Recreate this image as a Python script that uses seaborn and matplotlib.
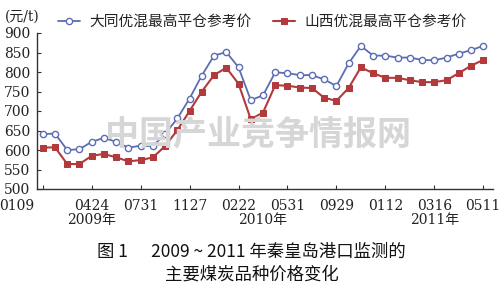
import numpy as np
import pandas as pd
import matplotlib
matplotlib.use("Agg")
import matplotlib.pyplot as plt
import matplotlib.transforms as mtransforms
import seaborn as sns

# ---- data ----
datong = [641, 642, 600, 602, 621, 631, 621, 606, 611, 610, 641, 681, 732, 791, 842,
          851, 812, 728, 740, 799, 797, 792, 792, 781, 764, 822, 867, 842, 842, 837,
          837, 831, 830, 837, 847, 856, 867]
shanxi = [606, 607, 564, 564, 585, 590, 581, 571, 574, 581, 610, 651, 700, 750, 792,
          811, 770, 679, 696, 766, 765, 760, 759, 734, 726, 759, 812, 797, 785, 785,
          779, 774, 774, 779, 797, 816, 831]
tick_labels = ["0109", "0424", "0731", "1127", "0222", "0531", "0929", "0112", "0316", "0511"]
year_labels = ["2009年", "2010年", "2011年"]
series_names = ["大同优混最高平仓参考价", "山西优混最高平仓参考价"]
y_ticks = [500, 550, 600, 650, 700, 750, 800, 850, 900]

sns.set_theme(style="white")
plt.rcParams['font.family'] = ['DejaVu Serif', 'Noto Sans CJK SC']

W, H = 501, 286
fig = plt.figure(figsize=(W / 100, H / 100), dpi=100)
ax = fig.add_axes([37 / W, 1 - 189 / H, (493 - 37) / W, (189 - 33) / H])

n = len(datong)
x = np.arange(n)
df = pd.DataFrame({"x": x, "d": datong, "s": shanxi})

blue = "#5c6db5"
red = "#b23a3c"

sns.lineplot(data=df, x="x", y="d", ax=ax, color=blue, lw=1.3, marker="o",
             markersize=4.5, markerfacecolor="white", markeredgecolor=blue,
             markeredgewidth=1.0, label=series_names[0], zorder=3)
sns.lineplot(data=df, x="x", y="s", ax=ax, color=red, lw=1.5, marker="s",
             markersize=5, markerfacecolor=red, markeredgecolor=red,
             label=series_names[1], zorder=3)

ax.set_xlim(-0.47, 36.8)
ax.set_ylim(500, 900)
ax.set_xlabel("")
ax.set_ylabel("")

tick_pos = list(range(0, n, 4))
ax.set_xticks(tick_pos)
ax.set_xticklabels(tick_labels)
ax.set_yticks(y_ticks)
ax.set_yticklabels([str(v) for v in y_ticks])

for sp in ["top", "right"]:
    ax.spines[sp].set_visible(False)
for sp in ["left", "bottom"]:
    ax.spines[sp].set_color("#333333")
    ax.spines[sp].set_linewidth(1.0)

ax.tick_params(axis="x", direction="in", length=3, width=0.8, color="#333333",
               labelsize=10, pad=7, bottom=True)
ax.tick_params(axis="y", direction="in", length=3, width=0.8, color="#333333",
               labelsize=10, pad=5, left=True)
for lbl in ax.get_xticklabels() + ax.get_yticklabels():
    lbl.set_family(['DejaVu Serif'])
    lbl.set_color("#222222")

# shift first x label left as in reference
first = ax.get_xticklabels()[0]
first.set_transform(first.get_transform() +
                    mtransforms.ScaledTranslation(-25.7 / 100, 0, fig.dpi_scale_trans))

# year labels
bt = mtransforms.blended_transform_factory(ax.transData, fig.transFigure)
for xi, lab in zip([4, 18, 32], year_labels):
    ax.text(xi, 1 - 220 / H, lab, transform=bt, ha="center", va="center",
            fontsize=10, family=['DejaVu Serif', 'Noto Sans CJK SC'], color="#222222")

# unit label
fig.text(5 / W, 1 - 17 / H, "(元/t)", ha="left", va="center", fontsize=10,
         family=['DejaVu Serif', 'Noto Sans CJK SC'], color="#222222")

# legend
leg = ax.legend(loc="center left", bbox_to_anchor=(58 / W, 1 - 22 / H),
                bbox_transform=fig.transFigure, ncol=2, frameon=False,
                handlelength=1.5, handletextpad=0.6, columnspacing=1.5,
                prop={"family": ["Noto Sans CJK SC"], "size": 10.6},
                borderaxespad=0, borderpad=0)
for t in leg.get_texts():
    t.set_color("#222222")

# watermark
fig.text(258 / W, 1 - 134 / H, "中国产业竞争情报网", ha="center", va="center",
         fontsize=24.5, family=["Noto Sans CJK SC"], color="#d6d6d6",
         fontweight="bold", zorder=0)

# caption
fig.text(251 / W, 1 - 252 / H, "图 1      2009 ~ 2011 年秦皇岛港口监测的", ha="center",
         va="center", fontsize=12.5, family=["Noto Sans CJK SC"], color="#111111")
fig.text(252 / W, 1 - 275 / H, "主要煤炭品种价格变化", ha="center", va="center",
         fontsize=12.5, family=["Noto Sans CJK SC"], color="#111111")

fig.savefig("out.png", dpi=100)
